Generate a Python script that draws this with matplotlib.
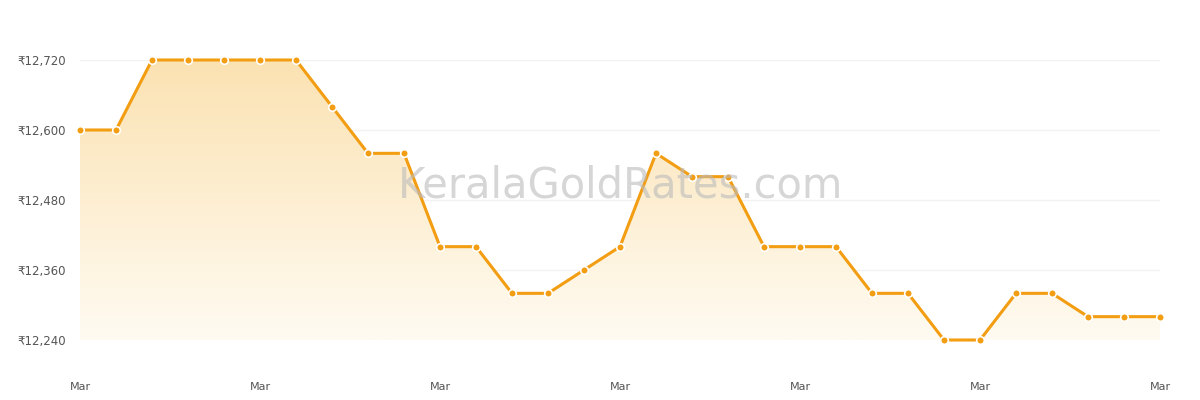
import numpy as np
import matplotlib.pyplot as plt
from matplotlib.patches import Polygon

# Kerala gold rate per gram, one point per day
prices = [12600, 12600, 12720, 12720, 12720, 12720, 12720, 12640, 12560, 12560,
          12400, 12400, 12320, 12320, 12360, 12400, 12560, 12520, 12520, 12400,
          12400, 12400, 12320, 12320, 12240, 12240, 12320, 12320, 12280, 12280,
          12280]
x_labels = ["Mar"] * 7
y_ticks = [12240, 12360, 12480, 12600, 12720]

x = np.arange(len(prices))
line_color = "#f29d12"

fig = plt.figure(figsize=(12, 4), dpi=100)
ax = fig.add_axes([80 / 1200, 60 / 400, 1080 / 1200, 280 / 400])
ax.set_xlim(0, len(prices) - 1)
ax.set_ylim(12240, 12720)

# gradient fill under the line
ymin = 12240
grad = np.linspace(1, 0, 256).reshape(-1, 1)
top = np.array([251, 226, 178]) / 255
bot = np.array([255, 251, 242]) / 255
img = top * grad[..., None] + bot * (1 - grad[..., None])
im = ax.imshow(img, extent=[0, len(prices) - 1, ymin, 12720], aspect="auto",
               origin="upper", zorder=1)
poly = Polygon(list(zip(x, prices)) + [(x[-1], ymin), (0, ymin)],
               closed=True, transform=ax.transData, facecolor="none", edgecolor="none")
ax.add_patch(poly)
im.set_clip_path(poly)

ax.plot(x, prices, color=line_color, lw=2.2, zorder=3, clip_on=False)
ax.plot(x, prices, "o", ms=5.5, mfc=line_color, mec="white", mew=1.2,
        zorder=4, clip_on=False)

ax.set_yticks(y_ticks)
ax.set_yticklabels([f"₹{v:,}" for v in y_ticks], fontsize=8.5, color="#555555")
ax.set_xticks(x[::5])
ax.set_xticklabels(x_labels, fontsize=8, color="#555555")
ax.tick_params(length=0, pad=10)
ax.tick_params(axis="x", pad=30)
ax.grid(axis="y", color="#f2f2f2", lw=1)
ax.set_axisbelow(True)
for s in ax.spines.values():
    s.set_visible(False)

fig.text(0.517, 0.535, "KeralaGoldRates.com", fontsize=30, color="#bbbbbb",
         alpha=0.6, ha="center", va="center")

fig.savefig("out.png")
